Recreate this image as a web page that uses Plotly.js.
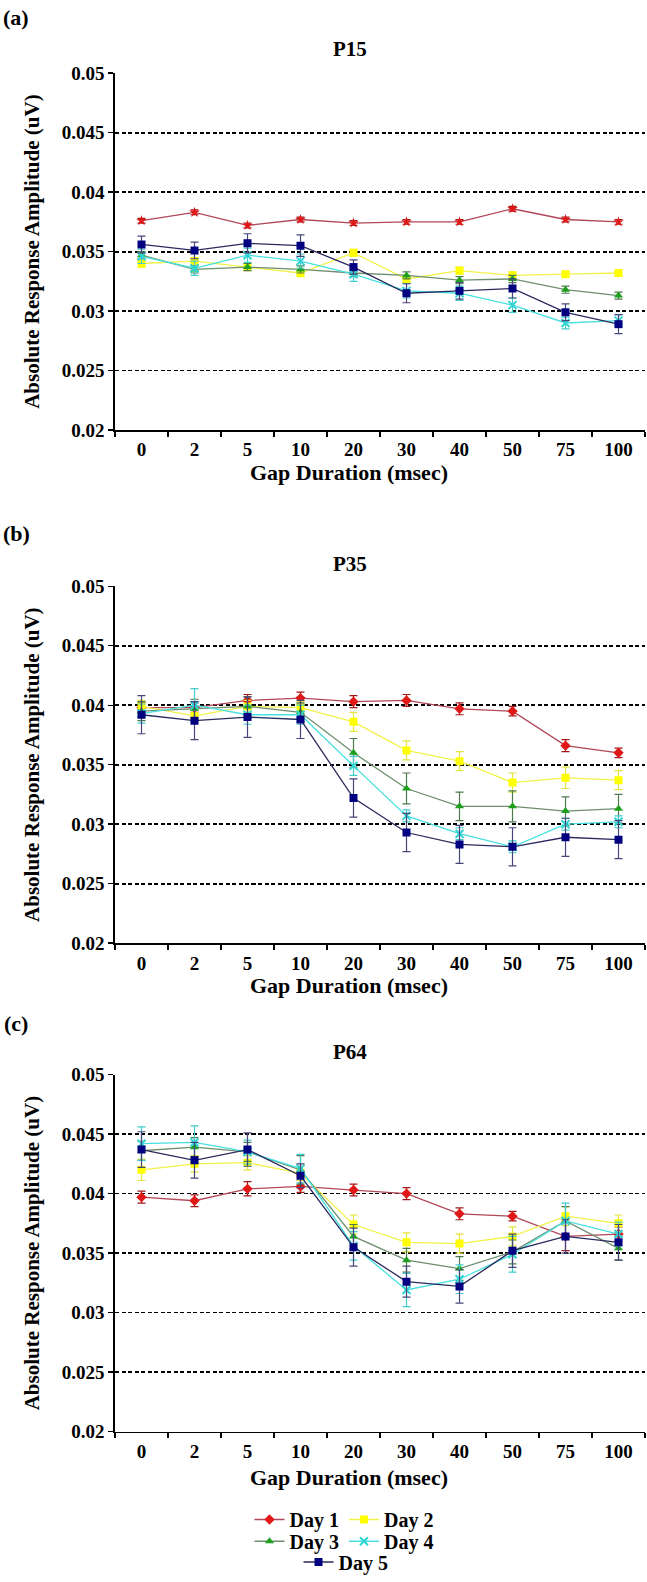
<!DOCTYPE html>
<html>
<head>
<meta charset="utf-8">
<script src="https://cdn.plot.ly/plotly-3.0.1.min.js"></script>
<style>html,body{margin:0;padding:0;background:#fff;}#chart{width:647px;height:1582px;}</style>
</head>
<body>
<div id="chart"></div>
<script>
// ---- Data ----
const gapLabels = ['0','2','5','10','20','30','40','50','75','100'];
const dayNames = ['Day 1','Day 2','Day 3','Day 4','Day 5'];
const panelTitles = ['P15','P35','P64'];
const panelLetters = ['(a)','(b)','(c)'];
const xTitle = 'Gap Duration (msec)';
const yTitle = 'Absolute Response Amplitude (uV)';
const yTickVals = [0.02,0.025,0.03,0.035,0.04,0.045,0.05];
const yTickText = ['0.02','0.025','0.03','0.035','0.04','0.045','0.05'];

// P15
const p15_day1 = [0.0376,0.0383,0.0372,0.0377,0.0374,0.0375,0.0375,0.0386,0.0377,0.0375];
const p15_day2 = [0.0340,0.0342,0.0337,0.0332,0.0349,0.0327,0.0334,0.0330,0.0331,0.0332];
const p15_day3 = [0.0347,0.0335,0.0337,0.0335,0.0332,0.0330,0.0326,0.0327,0.0318,0.0313];
const p15_day4 = [0.0346,0.0336,0.0347,0.0342,0.0331,0.0317,0.0315,0.0305,0.0290,0.0292];
const p15_day5 = [0.0356,0.0351,0.0357,0.0355,0.0337,0.0315,0.0317,0.0319,0.0299,0.0289];
const p15_err1 = [0.0002,0.0002,0.0002,0.0002,0.0002,0.0002,0.0002,0.0002,0.0002,0.0002];
const p15_err2 = [0.0003,0.0003,0.0003,0.0003,0.0003,0.0003,0.0003,0.0003,0.0002,0.0002];
const p15_err3 = [0.0003,0.0003,0.0003,0.0003,0.0003,0.0003,0.0003,0.0003,0.0003,0.0003];
const p15_err4 = [0.0006,0.0006,0.0006,0.0006,0.0006,0.0006,0.0006,0.0006,0.0005,0.0005];
const p15_err5 = [0.0007,0.0007,0.0008,0.0009,0.0006,0.0008,0.0007,0.0008,0.0007,0.0008];

// P35
const p35_day1 = [0.0398,0.0398,0.0404,0.0406,0.0403,0.0404,0.0397,0.0395,0.0366,0.0360];
const p35_day2 = [0.0399,0.0391,0.0399,0.0398,0.0386,0.0362,0.0353,0.0335,0.0339,0.0337];
const p35_day3 = [0.0395,0.0397,0.0399,0.0394,0.0360,0.0330,0.0315,0.0315,0.0311,0.0313];
const p35_day4 = [0.0393,0.0400,0.0392,0.0392,0.0349,0.0307,0.0292,0.0281,0.0300,0.0302];
const p35_day5 = [0.0392,0.0387,0.0390,0.0388,0.0322,0.0293,0.0283,0.0281,0.0289,0.0287];
const p35_err1 = [0.0004,0.0004,0.0005,0.0005,0.0005,0.0005,0.0005,0.0004,0.0005,0.0004];
const p35_err2 = [0.0005,0.0005,0.0005,0.0005,0.0008,0.0008,0.0008,0.0008,0.0009,0.0008];
const p35_err3 = [0.0008,0.0008,0.0008,0.0008,0.0012,0.0013,0.0012,0.0013,0.0012,0.0012];
const p35_err4 = [0.0008,0.0014,0.0008,0.0008,0.0008,0.0005,0.0005,0.0005,0.0005,0.0005];
const p35_err5 = [0.0016,0.0016,0.0017,0.0016,0.0016,0.0016,0.0016,0.0016,0.0016,0.0016];

// P64
const p64_day1 = [0.0397,0.0394,0.0404,0.0406,0.0403,0.0400,0.0383,0.0381,0.0364,0.0366];
const p64_day2 = [0.0420,0.0425,0.0426,0.0417,0.0374,0.0359,0.0358,0.0364,0.0381,0.0375];
const p64_day3 = [0.0436,0.0439,0.0435,0.0420,0.0364,0.0344,0.0337,0.0351,0.0377,0.0354];
const p64_day4 = [0.0442,0.0443,0.0435,0.0421,0.0356,0.0319,0.0328,0.0349,0.0377,0.0366];
const p64_day5 = [0.0437,0.0428,0.0437,0.0415,0.0355,0.0326,0.0322,0.0352,0.0364,0.0359];
const p64_err1 = [0.0005,0.0005,0.0006,0.0005,0.0005,0.0005,0.0005,0.0004,0.0012,0.0006];
const p64_err2 = [0.0009,0.0007,0.0006,0.0006,0.0008,0.0008,0.0008,0.0008,0.0008,0.0007];
const p64_err3 = [0.0008,0.0008,0.0008,0.0012,0.0010,0.0010,0.0010,0.0010,0.0012,0.0010];
const p64_err4 = [0.0014,0.0014,0.0010,0.0012,0.0012,0.0014,0.0012,0.0015,0.0015,0.0010];
const p64_err5 = [0.0015,0.0015,0.0014,0.0010,0.0016,0.0013,0.0014,0.0014,0.0014,0.0015];

const panels = [
  {vals:[p15_day1,p15_day2,p15_day3,p15_day4,p15_day5], errs:[p15_err1,p15_err2,p15_err3,p15_err4,p15_err5]},
  {vals:[p35_day1,p35_day2,p35_day3,p35_day4,p35_day5], errs:[p35_err1,p35_err2,p35_err3,p35_err4,p35_err5]},
  {vals:[p64_day1,p64_day2,p64_day3,p64_day4,p64_day5], errs:[p64_err1,p64_err2,p64_err3,p64_err4,p64_err5]}
];

// ---- Styles ----
const FONT = 'Liberation Serif, Times New Roman, serif';
const W = 647, H = 1582, ML = 115, MR = 2;
const PW = W - ML - MR;
const lineColors = ['#B04858','#F2F24A','#6E8E6E','#48E0E0','#2A2A5E'];
const markerColors = ['#E01818','#FFFF00','#1EA01E','#30D4D4','#000080'];
const errColors = ['#A01818','#E4E43C','#4E7A4E','#40CCCC','#46467A'];
const symbolsA = ['star','square','triangle-up','x-thin-open','square'];
const symbolsBC = ['diamond','square','triangle-up','x-thin-open','square'];
const markerSizes = [8,8,8,8,8];
const legendOf = ['legend','legend','legend2','legend2','legend3'];

// panel pixel geometry (top, bottom of plot area)
const panelPix = [[74,435],[593,954],[1087,1448]];
const letterY = [18, 540, 1035];
const titleY = [50, 570, 1064];
const xTitleOffset = [43, 43, 46];
const fy = p => 1 - p / H;
const fx = p => (p - ML) / PW;

const traces = [];
panels.forEach((pn, pi) => {
  const xa = pi === 0 ? 'x' : 'x' + (pi + 1);
  const ya = pi === 0 ? 'y' : 'y' + (pi + 1);
  for (let d = 0; d < 5; d++) {
    const isX = (symbolsA[d] === 'x-thin-open');
    traces.push({
      type: 'scatter', mode: 'lines+markers',
      x: gapLabels, y: pn.vals[d], xaxis: xa, yaxis: ya,
      name: dayNames[d],
      showlegend: pi === 2,
      legend: legendOf[d],
      line: {color: lineColors[d], width: 1.3},
      marker: {symbol: pi === 0 ? symbolsA[d] : symbolsBC[d], size: markerSizes[d], color: markerColors[d],
               line: {color: markerColors[d], width: isX ? 2 : 0}},
      error_y: {type: 'data', array: pn.errs[d], visible: true, color: errColors[d], thickness: 1.2, width: 4}
    });
  }
});

const tickFont = {family: FONT, size: 19, color: '#000', weight: 'bold'};
const yTitleFont = {family: FONT, size: 21, color: '#000', weight: 'bold'};
const xTitleFont = {family: FONT, size: 22, color: '#000', weight: 'bold'};
const legFont = {family: FONT, size: 20, color: '#000', weight: 'bold'};

const layout = {
  width: W, height: H,
  margin: {l: ML, r: MR, t: 0, b: 0},
  paper_bgcolor: '#fff', plot_bgcolor: '#fff',
  font: {family: FONT, color: '#000'},
  annotations: [],
  legend:  {orientation: 'h', x: fx(344), xanchor: 'center', y: fy(1537), yanchor: 'middle', font: legFont, bgcolor: 'rgba(0,0,0,0)', itemsizing: 'trace', itemwidth: 30},
  legend2: {orientation: 'h', x: fx(344), xanchor: 'center', y: fy(1559), yanchor: 'middle', font: legFont, bgcolor: 'rgba(0,0,0,0)', itemsizing: 'trace', itemwidth: 30},
  legend3: {orientation: 'h', x: fx(346), xanchor: 'center', y: fy(1580), yanchor: 'middle', font: legFont, bgcolor: 'rgba(0,0,0,0)', itemsizing: 'trace', itemwidth: 30}
};

panelPix.forEach((pp, pi) => {
  const sx = pi === 0 ? 'xaxis' : 'xaxis' + (pi + 1);
  const sy = pi === 0 ? 'yaxis' : 'yaxis' + (pi + 1);
  const xa = pi === 0 ? 'x' : 'x' + (pi + 1);
  const ya = pi === 0 ? 'y' : 'y' + (pi + 1);
  layout[sx] = {
    type: 'category', categoryorder: 'array', categoryarray: gapLabels,
    range: [-0.5, 9.5], domain: [0, 1], anchor: ya,
    showline: true, linecolor: '#000', linewidth: 1.6,
    ticks: 'outside', tickson: 'boundaries', ticklen: 5, tickwidth: 1.4, tickcolor: '#000',
    ticklabelstandoff: 2,
    tickfont: tickFont, showgrid: false, zeroline: false, fixedrange: true
  };
  layout[sy] = {
    domain: [fy(pp[1]), fy(pp[0])], anchor: xa,
    range: [0.02, 0.05], tickvals: yTickVals, ticktext: yTickText,
    showline: true, linecolor: '#000', linewidth: 1.6,
    ticks: 'outside', ticklen: 5, tickwidth: 1.4, tickcolor: '#000',
    tickfont: tickFont, showgrid: true, gridcolor: '#000', gridwidth: 1.8, griddash: '4px,2.5px',
    zeroline: false, fixedrange: true,
    title: {text: yTitle, font: yTitleFont, standoff: 16}
  };
  layout.annotations.push({
    xref: 'paper', yref: 'paper', x: fx(16), y: fy(letterY[pi]), xanchor: 'center', yanchor: 'middle',
    text: panelLetters[pi], showarrow: false, font: {family: FONT, size: 22, color: '#000', weight: 'bold'}
  });
  layout.annotations.push({
    xref: 'paper', yref: 'paper', x: fx(350), y: fy(titleY[pi]), xanchor: 'center', yanchor: 'middle',
    text: panelTitles[pi], showarrow: false, font: {family: FONT, size: 21, color: '#000', weight: 'bold'}
  });
  layout.annotations.push({
    xref: 'paper', yref: 'paper', x: fx(349), y: fy(pp[1] + xTitleOffset[pi]), xanchor: 'center', yanchor: 'middle',
    text: xTitle, showarrow: false, font: xTitleFont
  });
});

Plotly.newPlot('chart', traces, layout, {staticPlot: true, displayModeBar: false});
</script>
</body>
</html>
